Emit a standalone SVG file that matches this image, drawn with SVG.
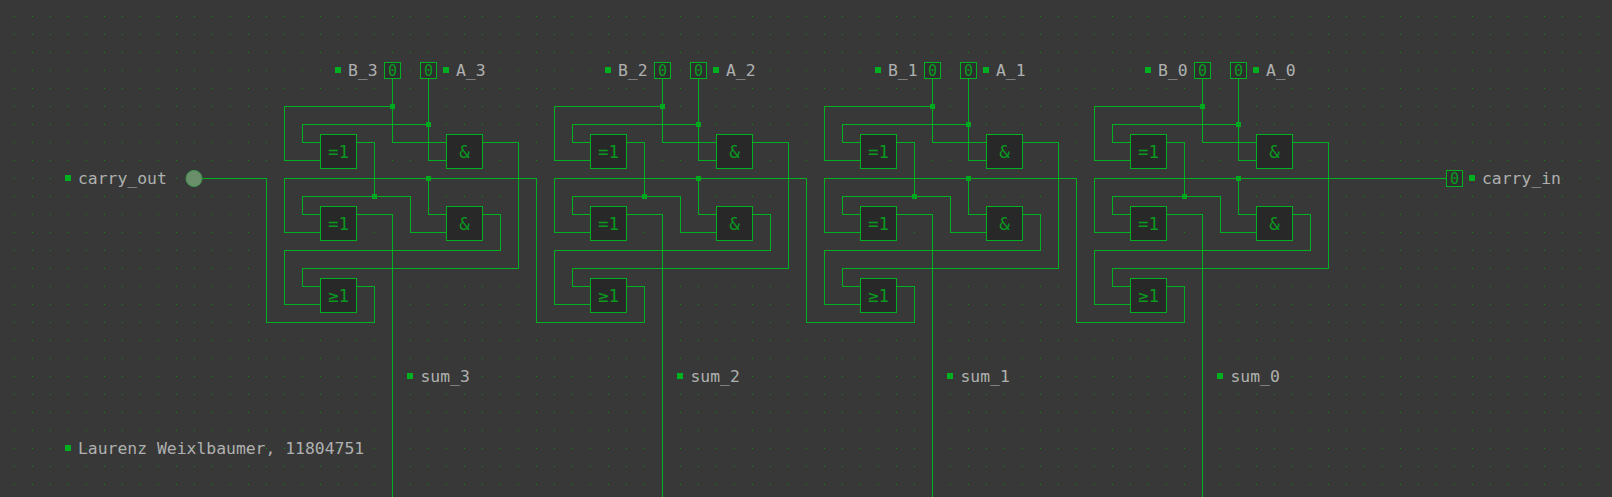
<svg xmlns="http://www.w3.org/2000/svg" width="1612" height="497" viewBox="0 0 1612 497">
<style>
.w{fill:none;stroke:#00b020;stroke-width:1;shape-rendering:crispEdges}
.j{fill:#00a820;shape-rendering:crispEdges}
.g{fill:#282828;stroke:#00b020;stroke-width:1;shape-rendering:crispEdges}
.b{fill:#2e2e2e;stroke:#00b020;stroke-width:1;shape-rendering:crispEdges}
.p{fill:#00b020;shape-rendering:crispEdges}
.t{font-family:"DejaVu Sans Mono","Liberation Mono",monospace;font-size:16.4px;fill:#b0b0b0}
.s{font-family:"DejaVu Sans Mono","Liberation Mono",monospace;font-size:17.5px;fill:#0a9a20;text-anchor:middle}
.z{font-family:"DejaVu Sans Mono","Liberation Mono",monospace;font-size:15px;fill:#0a9a20;text-anchor:middle}
.c{fill:#383838}
</style>
<defs>
<pattern id="grid" width="18" height="18" patternUnits="userSpaceOnUse" x="14" y="16"><rect width="1" height="1" fill="#009018"/></pattern>
<g id="cover">
<rect class="c" x="280" y="104" width="125" height="5"/>
<rect class="c" x="280" y="122" width="160" height="5"/>
<rect class="c" x="280" y="140" width="250" height="5"/>
<rect class="c" x="280" y="158" width="108" height="5"/>
<rect class="c" x="415" y="158" width="80" height="5"/>
<rect class="c" x="280" y="194" width="160" height="5"/>
<rect class="c" x="270" y="212" width="260" height="5"/>
<rect class="c" x="270" y="230" width="100" height="5"/>
<rect class="c" x="380" y="230" width="150" height="5"/>
<rect class="c" x="270" y="248" width="260" height="5"/>
<rect class="c" x="270" y="266" width="260" height="5"/>
<rect class="c" x="270" y="284" width="130" height="5"/>
<rect class="c" x="270" y="302" width="130" height="5"/>
</g>
</defs>
<rect width="1612" height="497" fill="#383838"/>
<rect width="1612" height="497" fill="url(#grid)"/>
<use href="#cover"/>
<use href="#cover" x="270"/>
<use href="#cover" x="540"/>
<use href="#cover" x="810"/>
<g id="connectors">
<g id="wires-3">
<path class="w" d="M392.5 78.5V142.5H446.5"/>
<path class="w" d="M392.5 106.5H284.5V160.5H320.5"/>
<path class="w" d="M428.5 78.5V160.5H446.5"/>
<path class="w" d="M428.5 124.5H302.5V142.5H320.5"/>
<path class="w" d="M356.5 142.5H374.5V196.5"/>
<path class="w" d="M446.5 232.5H410.5V196.5H302.5V214.5H320.5"/>
<path class="w" d="M536.5 178.5H284.5V232.5H320.5"/>
<path class="w" d="M428.5 178.5V214.5H446.5"/>
<path class="w" d="M356.5 214.5H392.5V497"/>
<path class="w" d="M482.5 214.5H500.5V250.5H284.5V304.5H320.5"/>
<path class="w" d="M482.5 142.5H518.5V268.5H302.5V286.5H320.5"/>
<path class="w" d="M356.5 286.5H374.5V322.5H266.5V178.5H202"/>
<rect class="j" x="390" y="104" width="5" height="5"/><rect class="j" x="426" y="122" width="5" height="5"/><rect class="j" x="426" y="176" width="5" height="5"/><rect class="j" x="372" y="194" width="5" height="5"/>
</g>
<g id="wires-2" transform="translate(270)">
<path class="w" d="M392.5 78.5V142.5H446.5"/>
<path class="w" d="M392.5 106.5H284.5V160.5H320.5"/>
<path class="w" d="M428.5 78.5V160.5H446.5"/>
<path class="w" d="M428.5 124.5H302.5V142.5H320.5"/>
<path class="w" d="M356.5 142.5H374.5V196.5"/>
<path class="w" d="M446.5 232.5H410.5V196.5H302.5V214.5H320.5"/>
<path class="w" d="M536.5 178.5H284.5V232.5H320.5"/>
<path class="w" d="M428.5 178.5V214.5H446.5"/>
<path class="w" d="M356.5 214.5H392.5V497"/>
<path class="w" d="M482.5 214.5H500.5V250.5H284.5V304.5H320.5"/>
<path class="w" d="M482.5 142.5H518.5V268.5H302.5V286.5H320.5"/>
<path class="w" d="M356.5 286.5H374.5V322.5H266.5V178.5"/>
<rect class="j" x="390" y="104" width="5" height="5"/><rect class="j" x="426" y="122" width="5" height="5"/><rect class="j" x="426" y="176" width="5" height="5"/><rect class="j" x="372" y="194" width="5" height="5"/>
</g>
<g id="wires-1" transform="translate(540)">
<path class="w" d="M392.5 78.5V142.5H446.5"/>
<path class="w" d="M392.5 106.5H284.5V160.5H320.5"/>
<path class="w" d="M428.5 78.5V160.5H446.5"/>
<path class="w" d="M428.5 124.5H302.5V142.5H320.5"/>
<path class="w" d="M356.5 142.5H374.5V196.5"/>
<path class="w" d="M446.5 232.5H410.5V196.5H302.5V214.5H320.5"/>
<path class="w" d="M536.5 178.5H284.5V232.5H320.5"/>
<path class="w" d="M428.5 178.5V214.5H446.5"/>
<path class="w" d="M356.5 214.5H392.5V497"/>
<path class="w" d="M482.5 214.5H500.5V250.5H284.5V304.5H320.5"/>
<path class="w" d="M482.5 142.5H518.5V268.5H302.5V286.5H320.5"/>
<path class="w" d="M356.5 286.5H374.5V322.5H266.5V178.5"/>
<rect class="j" x="390" y="104" width="5" height="5"/><rect class="j" x="426" y="122" width="5" height="5"/><rect class="j" x="426" y="176" width="5" height="5"/><rect class="j" x="372" y="194" width="5" height="5"/>
</g>
<g id="wires-0" transform="translate(810)">
<path class="w" d="M392.5 78.5V142.5H446.5"/>
<path class="w" d="M392.5 106.5H284.5V160.5H320.5"/>
<path class="w" d="M428.5 78.5V160.5H446.5"/>
<path class="w" d="M428.5 124.5H302.5V142.5H320.5"/>
<path class="w" d="M356.5 142.5H374.5V196.5"/>
<path class="w" d="M446.5 232.5H410.5V196.5H302.5V214.5H320.5"/>
<path class="w" d="M636.5 178.5H284.5V232.5H320.5"/>
<path class="w" d="M428.5 178.5V214.5H446.5"/>
<path class="w" d="M356.5 214.5H392.5V497"/>
<path class="w" d="M482.5 214.5H500.5V250.5H284.5V304.5H320.5"/>
<path class="w" d="M482.5 142.5H518.5V268.5H302.5V286.5H320.5"/>
<path class="w" d="M356.5 286.5H374.5V322.5H266.5V178.5"/>
<rect class="j" x="390" y="104" width="5" height="5"/><rect class="j" x="426" y="122" width="5" height="5"/><rect class="j" x="426" y="176" width="5" height="5"/><rect class="j" x="372" y="194" width="5" height="5"/>
</g>
</g>
<g id="carry_out"><rect class="p" x="65" y="175" width="6" height="6"/><text class="t" x="78" y="184">carry_out</text></g>
<g id="carry_out_pin"><circle cx="194" cy="178.5" r="8" fill="#6a8f6a" stroke="#3f9a4f" stroke-width="1"/></g>
<g id="carry_in"><rect class="b" x="1446.5" y="170.5" width="16" height="16"/><text class="z" x="1454.5" y="184">0</text><rect class="p" x="1469" y="175" width="6" height="6"/><text class="t" x="1482" y="184">carry_in</text></g>
<g id="author"><rect class="p" x="65" y="445" width="6" height="6"/><text class="t" x="78" y="454">Laurenz Weixlbaumer, 11804751</text></g>

<g id="B_3"><rect class="p" x="335" y="67" width="6" height="6"/><text class="t" x="348" y="76">B_3</text><rect class="b" x="384.5" y="62.5" width="16" height="16"/><text class="z" x="392.5" y="76">0</text></g>
<g id="A_3"><rect class="b" x="420.5" y="62.5" width="16" height="16"/><text class="z" x="428.5" y="76">0</text><rect class="p" x="443" y="67" width="6" height="6"/><text class="t" x="456" y="76">A_3</text></g>
<g id="xor1_3"><rect class="g" x="320.5" y="134.5" width="36" height="34"/><text class="s" x="338.5" y="158">=1</text></g>
<g id="and1_3"><rect class="g" x="446.5" y="134.5" width="36" height="34"/><text class="s" x="464.5" y="158">&amp;</text></g>
<g id="xor2_3"><rect class="g" x="320.5" y="206.5" width="36" height="34"/><text class="s" x="338.5" y="230">=1</text></g>
<g id="and2_3"><rect class="g" x="446.5" y="206.5" width="36" height="34"/><text class="s" x="464.5" y="230">&amp;</text></g>
<g id="or_3"><rect class="g" x="320.5" y="278.5" width="36" height="34"/><text class="s" x="338.5" y="302">≥1</text></g>
<g id="sum_3"><rect class="p" x="407" y="373" width="6" height="6"/><text class="t" x="420.5" y="382">sum_3</text></g>

<g id="B_2"><rect class="p" x="605" y="67" width="6" height="6"/><text class="t" x="618" y="76">B_2</text><rect class="b" x="654.5" y="62.5" width="16" height="16"/><text class="z" x="662.5" y="76">0</text></g>
<g id="A_2"><rect class="b" x="690.5" y="62.5" width="16" height="16"/><text class="z" x="698.5" y="76">0</text><rect class="p" x="713" y="67" width="6" height="6"/><text class="t" x="726" y="76">A_2</text></g>
<g id="xor1_2"><rect class="g" x="590.5" y="134.5" width="36" height="34"/><text class="s" x="608.5" y="158">=1</text></g>
<g id="and1_2"><rect class="g" x="716.5" y="134.5" width="36" height="34"/><text class="s" x="734.5" y="158">&amp;</text></g>
<g id="xor2_2"><rect class="g" x="590.5" y="206.5" width="36" height="34"/><text class="s" x="608.5" y="230">=1</text></g>
<g id="and2_2"><rect class="g" x="716.5" y="206.5" width="36" height="34"/><text class="s" x="734.5" y="230">&amp;</text></g>
<g id="or_2"><rect class="g" x="590.5" y="278.5" width="36" height="34"/><text class="s" x="608.5" y="302">≥1</text></g>
<g id="sum_2"><rect class="p" x="677" y="373" width="6" height="6"/><text class="t" x="690.5" y="382">sum_2</text></g>

<g id="B_1"><rect class="p" x="875" y="67" width="6" height="6"/><text class="t" x="888" y="76">B_1</text><rect class="b" x="924.5" y="62.5" width="16" height="16"/><text class="z" x="932.5" y="76">0</text></g>
<g id="A_1"><rect class="b" x="960.5" y="62.5" width="16" height="16"/><text class="z" x="968.5" y="76">0</text><rect class="p" x="983" y="67" width="6" height="6"/><text class="t" x="996" y="76">A_1</text></g>
<g id="xor1_1"><rect class="g" x="860.5" y="134.5" width="36" height="34"/><text class="s" x="878.5" y="158">=1</text></g>
<g id="and1_1"><rect class="g" x="986.5" y="134.5" width="36" height="34"/><text class="s" x="1004.5" y="158">&amp;</text></g>
<g id="xor2_1"><rect class="g" x="860.5" y="206.5" width="36" height="34"/><text class="s" x="878.5" y="230">=1</text></g>
<g id="and2_1"><rect class="g" x="986.5" y="206.5" width="36" height="34"/><text class="s" x="1004.5" y="230">&amp;</text></g>
<g id="or_1"><rect class="g" x="860.5" y="278.5" width="36" height="34"/><text class="s" x="878.5" y="302">≥1</text></g>
<g id="sum_1"><rect class="p" x="947" y="373" width="6" height="6"/><text class="t" x="960.5" y="382">sum_1</text></g>

<g id="B_0"><rect class="p" x="1145" y="67" width="6" height="6"/><text class="t" x="1158" y="76">B_0</text><rect class="b" x="1194.5" y="62.5" width="16" height="16"/><text class="z" x="1202.5" y="76">0</text></g>
<g id="A_0"><rect class="b" x="1230.5" y="62.5" width="16" height="16"/><text class="z" x="1238.5" y="76">0</text><rect class="p" x="1253" y="67" width="6" height="6"/><text class="t" x="1266" y="76">A_0</text></g>
<g id="xor1_0"><rect class="g" x="1130.5" y="134.5" width="36" height="34"/><text class="s" x="1148.5" y="158">=1</text></g>
<g id="and1_0"><rect class="g" x="1256.5" y="134.5" width="36" height="34"/><text class="s" x="1274.5" y="158">&amp;</text></g>
<g id="xor2_0"><rect class="g" x="1130.5" y="206.5" width="36" height="34"/><text class="s" x="1148.5" y="230">=1</text></g>
<g id="and2_0"><rect class="g" x="1256.5" y="206.5" width="36" height="34"/><text class="s" x="1274.5" y="230">&amp;</text></g>
<g id="or_0"><rect class="g" x="1130.5" y="278.5" width="36" height="34"/><text class="s" x="1148.5" y="302">≥1</text></g>
<g id="sum_0"><rect class="p" x="1217" y="373" width="6" height="6"/><text class="t" x="1230.5" y="382">sum_0</text></g>
</svg>
